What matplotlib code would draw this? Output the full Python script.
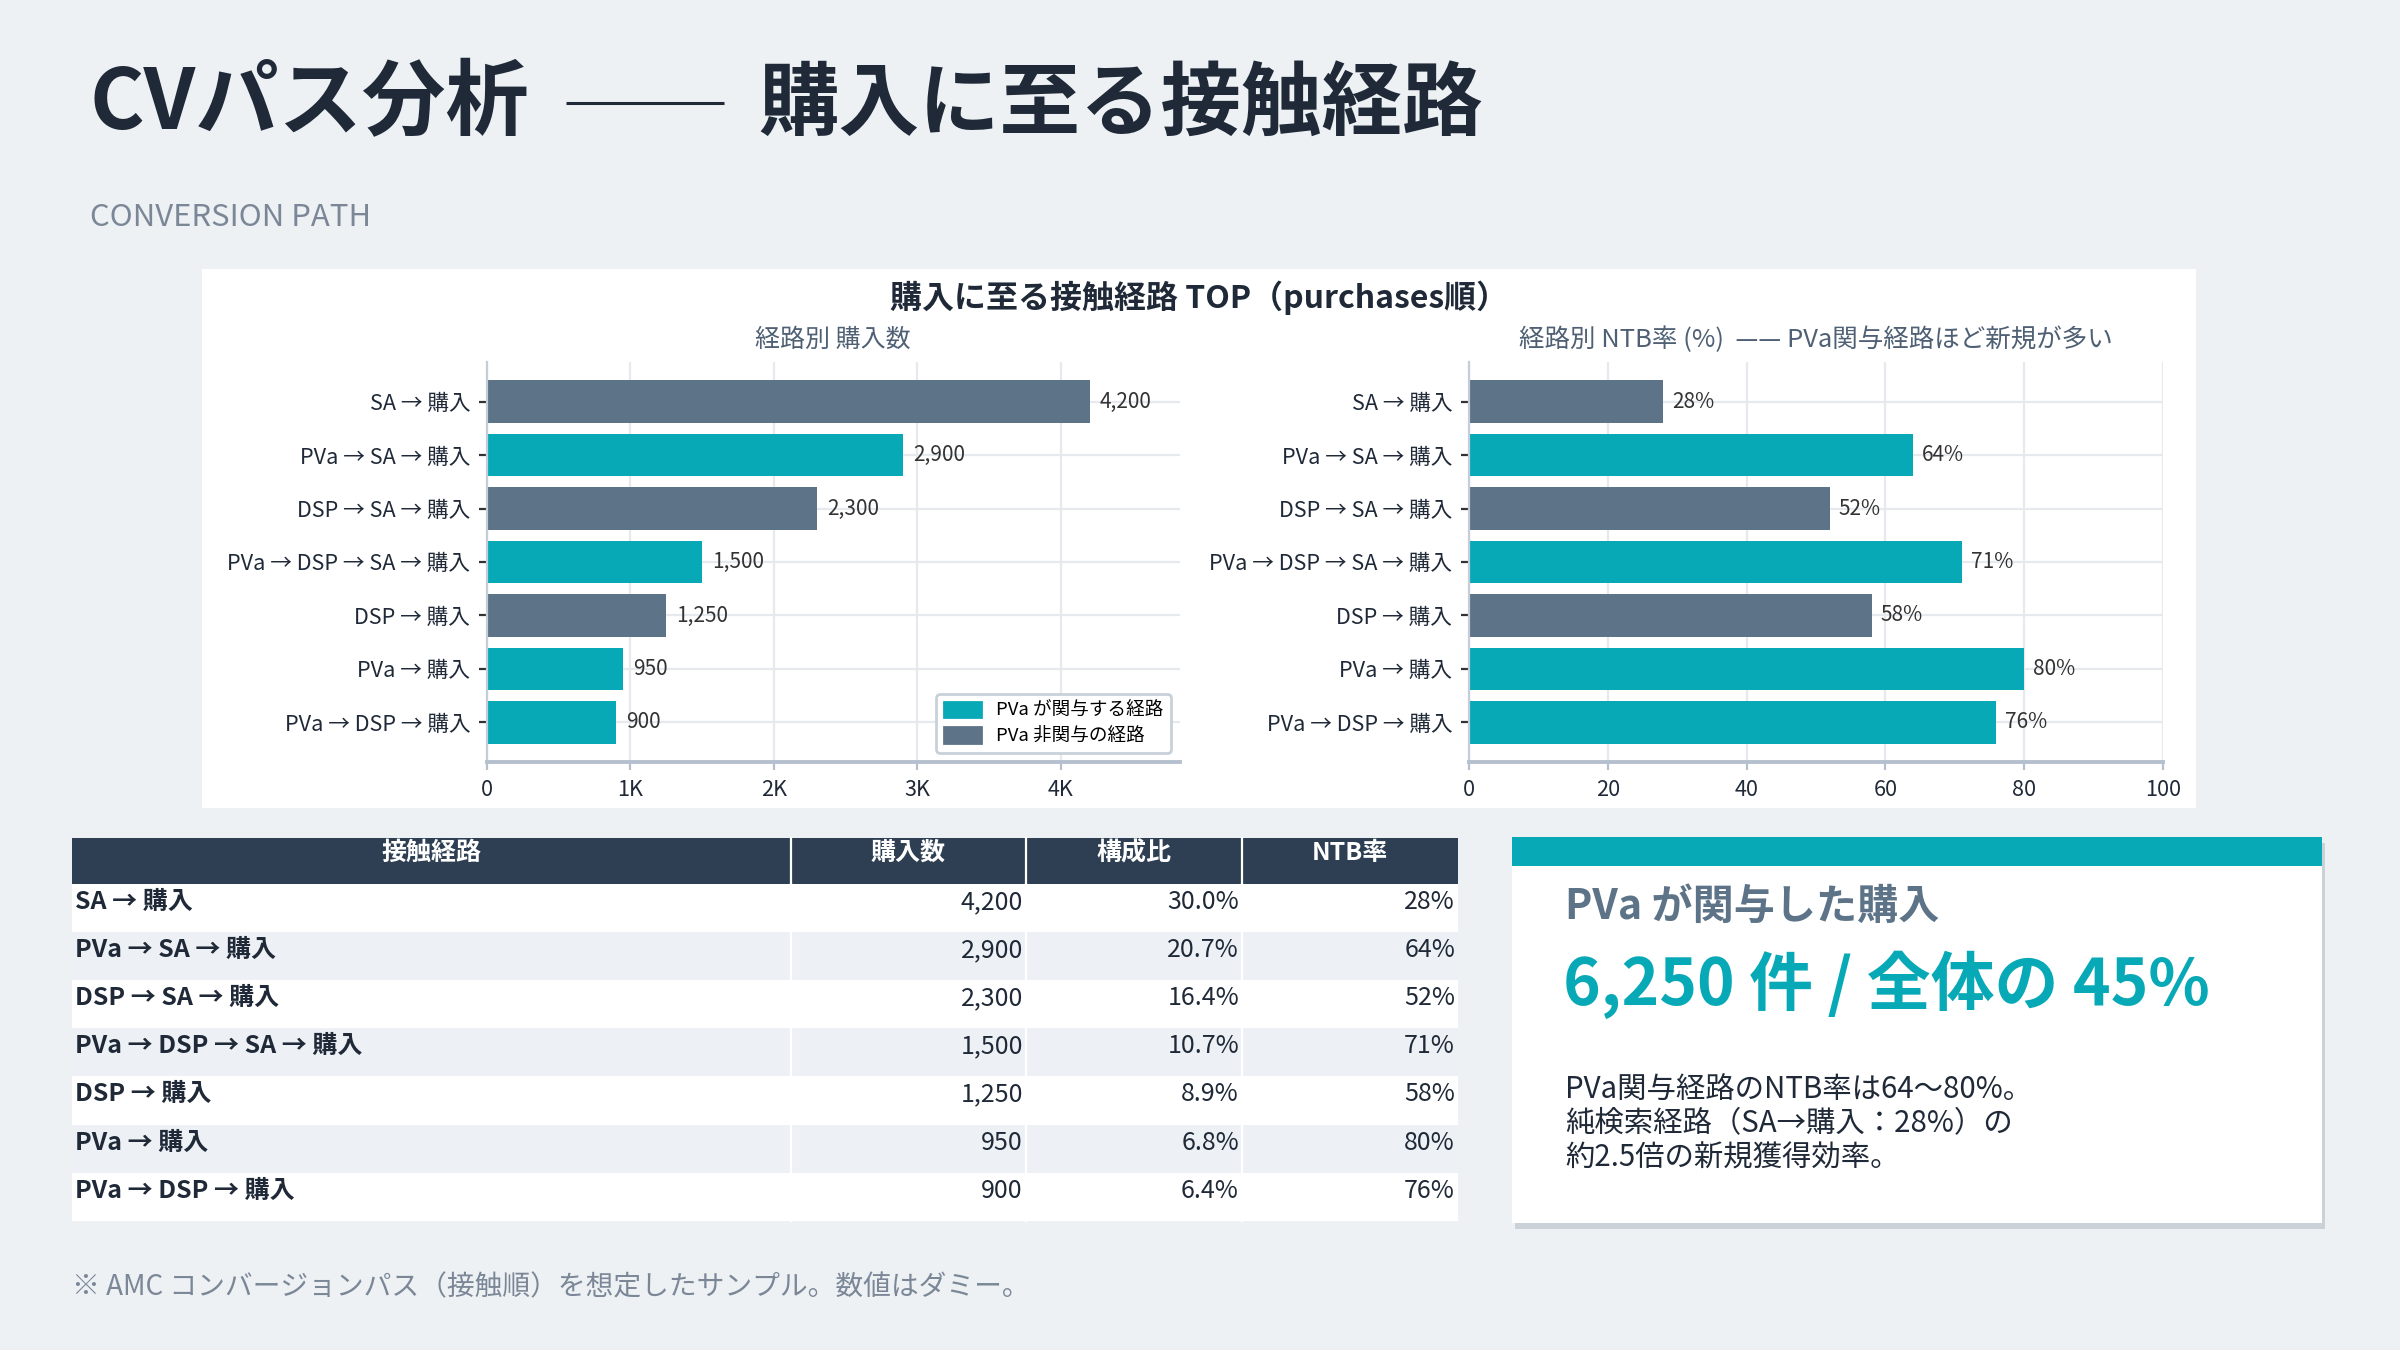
import matplotlib
matplotlib.use("Agg")
import matplotlib.pyplot as plt
from matplotlib.patches import Rectangle, Patch

plt.rcParams['font.family'] = ['Noto Sans CJK JP', 'DejaVu Sans']

# data
paths = ["SA → 購入", "PVa → SA → 購入", "DSP → SA → 購入", "PVa → DSP → SA → 購入",
         "DSP → 購入", "PVa → 購入", "PVa → DSP → 購入"]
purchases = [4200, 2900, 2300, 1500, 1250, 950, 900]
ntb_rate = [28, 64, 52, 71, 58, 80, 76]
pva_involved = [False, True, False, True, False, True, True]
table_header = ["接触経路", "購入数", "構成比", "NTB率"]

total = sum(purchases)
pva_total = sum(p for p, f in zip(purchases, pva_involved) if f)
shares = [p / total * 100 for p in purchases]

BG = "#edf1f4"
TEAL = "#07a9b7"
SLATE = "#5d7388"
NAVY = "#2e3f53"
DARK = "#1f2937"
GRAY = "#7b8797"
SUB = "#4f6074"
STRIPE = "#edf1f5"
GRID = "#e6eaef"

W, H = 2400, 1350
fig = plt.figure(figsize=(12, 6.75), dpi=200, facecolor=BG)

# background layer in pixel coords
bg = fig.add_axes([0, 0, 1, 1], zorder=0)
bg.set_xlim(0, W)
bg.set_ylim(H, 0)
bg.axis("off")

# title: "CVパス分析 —— 購入に至る接触経路" (dash drawn as a thin rule)
bg.text(89, 105, "CVパス分析", fontsize=30, fontweight="bold", color=DARK, va="center", ha="left")
bg.plot([566, 724], [103, 103], color=DARK, lw=1.1, solid_capstyle="butt")
bg.text(758, 105, "購入に至る接触経路", fontsize=29, fontweight="bold", color=DARK,
        va="center", ha="left")
bg.text(90, 217, "CONVERSION PATH", fontsize=11.2, color=GRAY, va="center", ha="left")

# white chart panel
bg.add_patch(Rectangle((202, 269), 1994, 539, facecolor="white", edgecolor="none"))
bg.text(1199, 298, "購入に至る接触経路 TOP（purchases順）", fontsize=11.5, fontweight="bold",
        color=DARK, ha="center", va="center")
bg.text(833, 340, "経路別 購入数", fontsize=9, color=SUB, ha="center", va="center")
bg.text(1816, 340, "経路別 NTB率 (%)  —— PVa関与経路ほど新規が多い", fontsize=9.2, color=SUB,
        ha="center", va="center")

colors = [TEAL if f else SLATE for f in pva_involved]
ypos = list(range(len(paths)))


def style_axes(ax):
    ax.set_facecolor("white")
    ax.invert_yaxis()
    ax.set_axisbelow(True)
    ax.grid(True, color=GRID, linewidth=0.8)
    for s in ["top", "right"]:
        ax.spines[s].set_visible(False)
    ax.spines["left"].set_color("#c5ced8")
    ax.spines["left"].set_linewidth(0.8)
    ax.spines["bottom"].set_color("#b4c0cd")
    ax.spines["bottom"].set_linewidth(1.4)
    ax.tick_params(axis="y", length=3, width=0.8, color="#333333", labelsize=7.8, labelcolor=DARK, pad=3)
    ax.tick_params(axis="x", length=3, width=0.8, color="#b4c0cd", labelsize=7.8, labelcolor=DARK, pad=3)
    ax.set_yticks(ypos)
    ax.set_yticklabels(paths)


# left: purchases
ax1 = fig.add_axes([487 / W, 1 - 762 / H, 693 / W, 400 / H], zorder=2)
ax1.barh(ypos, purchases, height=0.8, color=colors)
style_axes(ax1)
ax1.set_xlim(0, max(purchases) * 1.15)
ax1.set_xticks([0, 1000, 2000, 3000, 4000])
ax1.set_xticklabels(["0", "1K", "2K", "3K", "4K"])
for y, v in zip(ypos, purchases):
    ax1.text(v + 70, y, f"{v:,}", va="center", ha="left", fontsize=7.5, color="#333333")
ax1.legend(handles=[Patch(color=TEAL, label="PVa が関与する経路"),
                    Patch(color=SLATE, label="PVa 非関与の経路")],
           loc="lower right", fontsize=6.7, frameon=True, edgecolor="#c8d0d9",
           framealpha=1, handlelength=2.0, handleheight=0.9, labelspacing=0.4)

# right: NTB rate
ax2 = fig.add_axes([1469 / W, 1 - 762 / H, 694 / W, 400 / H], zorder=2)
ax2.barh(ypos, ntb_rate, height=0.8, color=colors)
style_axes(ax2)
ax2.set_xlim(0, 100)
ax2.set_xticks([0, 20, 40, 60, 80, 100])
for y, v in zip(ypos, ntb_rate):
    ax2.text(v + 1.3, y, f"{v}%", va="center", ha="left", fontsize=7.5, color="#333333")

# table
col_x = [72, 791, 1026, 1242, 1458]
head_top, head_h, row_h = 838, 46, 48.1
bg.add_patch(Rectangle((col_x[0], head_top), col_x[-1] - col_x[0], head_h,
                       facecolor=NAVY, edgecolor="none"))
for i, name in enumerate(table_header):
    bg.text((col_x[i] + col_x[i + 1]) / 2, head_top + 15, name, color="white",
            fontsize=9, fontweight="bold", ha="center", va="center")
for c in col_x[1:-1]:
    bg.plot([c, c], [head_top, head_top + head_h], color="white", lw=0.8)

for r in range(len(paths)):
    top = head_top + head_h + r * row_h
    fc = "white" if r % 2 == 0 else STRIPE
    bg.add_patch(Rectangle((col_x[0], top), col_x[-1] - col_x[0], row_h,
                           facecolor=fc, edgecolor="none"))
    for c in col_x[1:-1]:
        bg.plot([c, c], [top, top + row_h], color="white", lw=0.8)
    ty = top + 18
    bg.text(col_x[0] + 3, ty, paths[r], fontsize=9, fontweight="bold", color=DARK,
            ha="left", va="center")
    vals = [f"{purchases[r]:,}", f"{shares[r]:.1f}%", f"{ntb_rate[r]}%"]
    for k, s in enumerate(vals):
        bg.text(col_x[k + 2] - 3, ty, s, fontsize=9, color=DARK, ha="right", va="center")

# card
cx0, cx1, cy0, cy1 = 1512, 2322, 837, 1223
bg.add_patch(Rectangle((cx0 + 3, cy0 + 6), cx1 - cx0, cy1 - cy0, facecolor="#c3cad3",
                       edgecolor="none", alpha=0.8))
bg.add_patch(Rectangle((cx0, cy0), cx1 - cx0, cy1 - cy0, facecolor="white", edgecolor="none"))
bg.add_patch(Rectangle((cx0, cy0), cx1 - cx0, 29, facecolor=TEAL, edgecolor="none"))
bg.text(1565, 907, "PVa が関与した購入", fontsize=14.8, fontweight="bold", color=SLATE,
        ha="left", va="center")
bg.text(1563, 985, f"{pva_total:,} 件 / 全体の {pva_total / total * 100:.0f}%", fontsize=23,
        fontweight="bold", color=TEAL, ha="left", va="center")
card_body = ["PVa関与経路のNTB率は64～80%。",
             "純検索経路（SA→購入：28%）の",
             "約2.5倍の新規獲得効率。"]
for i, line in enumerate(card_body):
    bg.text(1565, 1090 + i * 34, line, fontsize=10.6, color=DARK, ha="left", va="center")

bg.text(72, 1287, "※ AMC コンバージョンパス（接触順）を想定したサンプル。数値はダミー。",
        fontsize=10, color=GRAY, ha="left", va="center")

fig.savefig("out.png", dpi=200, facecolor=BG)
